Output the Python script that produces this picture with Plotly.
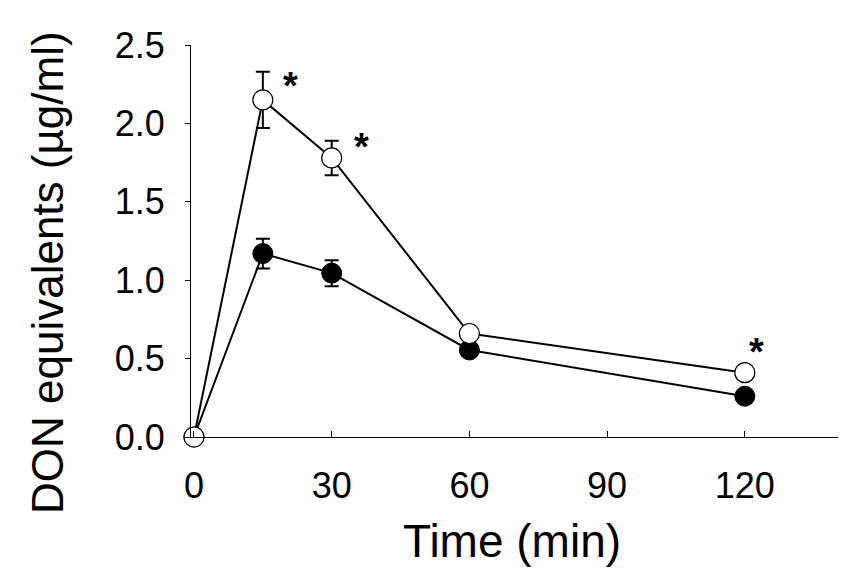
import plotly.graph_objects as go

time_min = [0, 15, 30, 60, 120]
open_vals = [0.0, 2.15, 1.78, 0.66, 0.41]
open_err = [0.0, 0.18, 0.11, 0.0, 0.0]
filled_vals = [0.0, 1.17, 1.045, 0.555, 0.26]
filled_err = [0.0, 0.095, 0.083, 0.0, 0.0]
x_ticks = [0, 30, 60, 90, 120]
y_ticks = [0.0, 0.5, 1.0, 1.5, 2.0, 2.5]
y_tick_labels = ["0.0", "0.5", "1.0", "1.5", "2.0", "2.5"]
star_x = [21.1, 36.4, 122.6]
star_y = [2.27, 1.88, 0.575]

FONT = "Arial, Liberation Sans, sans-serif"

fig = go.Figure()
fig.add_trace(go.Scatter(
    x=time_min, y=filled_vals, mode="lines+markers",
    line=dict(color="black", width=2),
    marker=dict(size=20, color="black", line=dict(color="black", width=1)),
    error_y=dict(type="data", array=filled_err, visible=True, color="black", thickness=2, width=7),
    cliponaxis=False, showlegend=False))
fig.add_trace(go.Scatter(
    x=time_min, y=open_vals, mode="lines+markers",
    line=dict(color="black", width=2),
    marker=dict(size=20, color="white", line=dict(color="black", width=1.2)),
    error_y=dict(type="data", array=open_err, visible=True, color="black", thickness=2, width=7),
    cliponaxis=False, showlegend=False))

for sx, sy in zip(star_x, star_y):
    fig.add_annotation(x=sx, y=sy, xref="x", yref="y", text="<b>*</b>", showarrow=False,
                       font=dict(family=FONT, size=38, color="black"),
                       xanchor="center", yanchor="middle", yshift=-5)

# plot area on screen: x 191..838, y 45..437 (page has 8px body margin)
fig.add_annotation(x=(47 - 191) / 647, y=(437 - 273) / 392, xref="paper", yref="paper",
                   text="DON equivalents (µg/ml)", showarrow=False, textangle=-90,
                   font=dict(family=FONT, size=44, color="black"),
                   xanchor="center", yanchor="middle")
fig.add_annotation(x=(512 - 191) / 647, y=-(541 - 437) / 392, xref="paper", yref="paper",
                   text="Time (min)", showarrow=False,
                   font=dict(family=FONT, size=46, color="black"),
                   xanchor="center", yanchor="middle")

fig.update_layout(
    width=850, height=570,
    margin=dict(l=183, r=20, t=37, b=141),
    plot_bgcolor="white", paper_bgcolor="white",
    font=dict(family=FONT, color="black"),
    xaxis=dict(range=[-0.65, 140.3], tickvals=x_ticks, ticks="inside", ticklen=6,
               tickwidth=1, tickcolor="black", showline=True, linecolor="black",
               linewidth=1, showgrid=False, zeroline=False,
               tickfont=dict(size=36, family=FONT, color="black"),
               ticklabelstandoff=17),
    yaxis=dict(range=[0, 2.5], tickvals=y_ticks, ticktext=y_tick_labels,
               ticks="outside", ticklen=5, tickwidth=1, tickcolor="black",
               showline=True, linecolor="black", linewidth=1, showgrid=False,
               zeroline=False, tickfont=dict(size=36, family=FONT, color="black"),
               ticklabelstandoff=13),
)

fig.write_html("out.html")
